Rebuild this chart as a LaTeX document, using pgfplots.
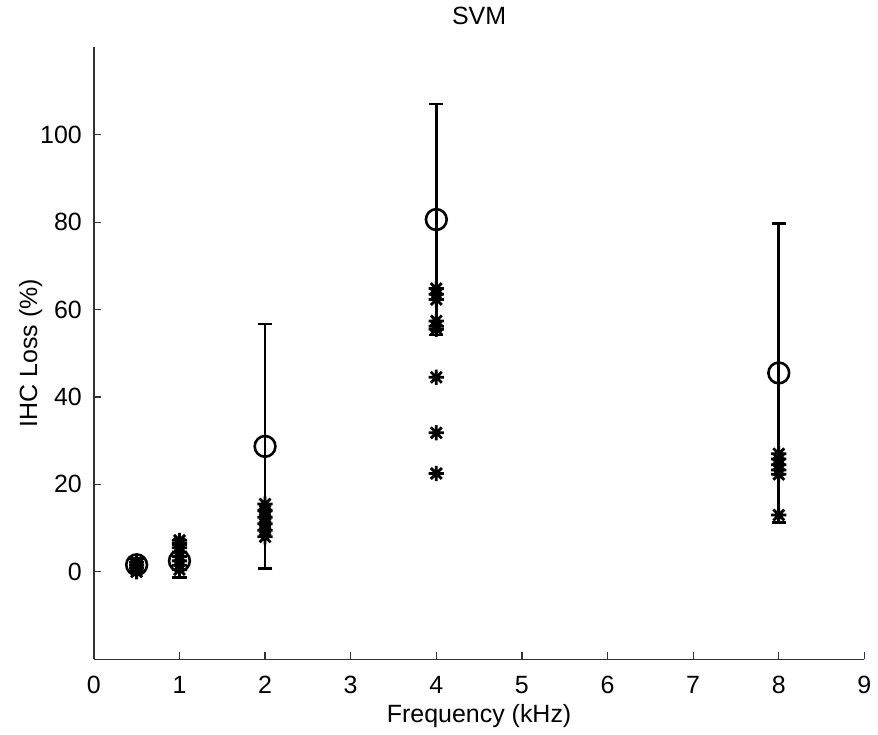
\documentclass[border=0pt]{standalone}
\usepackage{pgfplots}
\pgfplotsset{compat=1.18}
\usepackage{fontspec}
\setmainfont{Liberation Sans}
\pgfdeclareplotmark{mstar}{%
  \pgfpathmoveto{\pgfqpoint{-\pgfplotmarksize}{0pt}}\pgfpathlineto{\pgfqpoint{\pgfplotmarksize}{0pt}}%
  \pgfpathmoveto{\pgfqpoint{0pt}{-\pgfplotmarksize}}\pgfpathlineto{\pgfqpoint{0pt}{\pgfplotmarksize}}%
  \pgfpathmoveto{\pgfqpoint{-0.72\pgfplotmarksize}{-0.72\pgfplotmarksize}}\pgfpathlineto{\pgfqpoint{0.72\pgfplotmarksize}{0.72\pgfplotmarksize}}%
  \pgfpathmoveto{\pgfqpoint{-0.72\pgfplotmarksize}{0.72\pgfplotmarksize}}\pgfpathlineto{\pgfqpoint{0.72\pgfplotmarksize}{-0.72\pgfplotmarksize}}%
  \pgfusepathqstroke}
\begin{document}
\begin{tikzpicture}
\begin{axis}[
  scale only axis,
  width=386pt, height=306.5pt,
  xmin=0, xmax=9, ymin=-20, ymax=120,
  axis x line*=bottom, axis y line*=left,
  tick align=inside,
  major tick length=3.5pt,
  xtick={0,1,...,9},
  ytick={0,20,40,60,80,100},
  /pgf/number format/assume math mode=true,
  tick label style={font=\fontsize{12.5}{14}\selectfont},
  xticklabel style={yshift=-5pt},
  yticklabel style={xshift=-2.5pt},
  label style={font=\fontsize{12.5}{14}\selectfont},
  title style={font=\fontsize{12.5}{14}\selectfont, yshift=2pt},
  title={SVM},
  xlabel={Frequency (kHz)},
  xlabel style={yshift=1.5pt},
  ylabel={IHC Loss (\%)},
  ylabel style={yshift=-8pt},
  axis line style={black!80, line width=0.7pt},
  every tick/.style={black!80, line width=0.6pt},
]
% stars (individual values)
\addplot[only marks, mark=mstar, mark size=3.8pt, line width=1.4pt, black] coordinates {
 (0.5,0.0) (0.5,0.8) (0.5,1.5) (0.5,2.2)
 (1,0.5) (1,1.5) (1,2.5) (1,3.5) (1,4.5) (1,5.5) (1,6.5) (1,7.2)
 (2,8.0) (2,9.5) (2,11.0) (2,12.5) (2,14.0) (2,15.5)
 (4,64.8) (4,63.5) (4,62.3) (4,57.4) (4,56.2) (4,55.5) (4,44.5) (4,31.8) (4,22.5)
 (8,27.0) (8,25.8) (8,24.5) (8,23.3) (8,22.3) (8,13.0)
};
% means with error bars
\addplot[only marks, mark=o, mark size=5.2pt, line width=1.3pt, black,
  error bars/.cd, y dir=both, y explicit,
  error bar style={line width=1.3pt, black},
  error mark options={rotate=90, mark size=3.6pt, line width=1.3pt, black}]
 coordinates {
 (0.5,1.6) +- (0,1.5)
 (1,2.5) +- (0,3.8)
 (2,28.7) +- (0,28.0)
 (4,80.6) +- (0,26.4)
 (8,45.5) +- (0,34.2)
};
\end{axis}
\path ([xshift=-47pt]current axis.south west);
\end{tikzpicture}
\end{document}
